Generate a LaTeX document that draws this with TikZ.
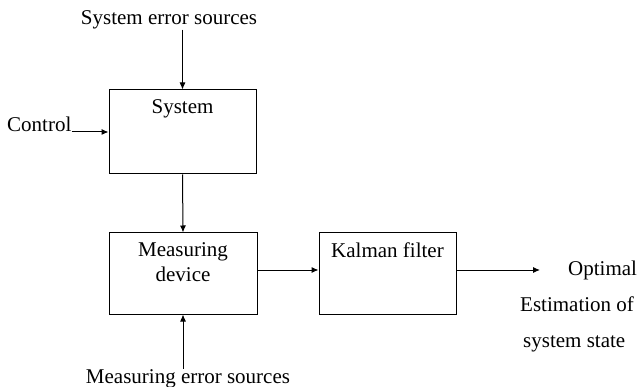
\documentclass[tikz,border=0pt]{standalone}
\usepackage{fontspec}
\setmainfont{Liberation Serif}
\usetikzlibrary{positioning,arrows.meta}

\begin{document}
\begin{tikzpicture}
      [x=1pt,y=-1pt,
       every node/.style={font=\fontsize{21}{25}\selectfont,inner sep=0pt},
       block/.style={draw,line width=1pt,minimum height=81pt},
       inside/.style={anchor=north,align=center,yshift=-10pt},
       flow/.style={-{Latex[length=7pt,width=6pt]},line width=1pt}]
      \useasboundingbox (0,0) rectangle (639,387);
      \node[block,minimum width=147pt,minimum height=84pt,label={[inside]north:System}] (system) at (182.5,132) {};
      \node[block,minimum width=148pt,label={[inside]north:Measuring\\device}] (meas) at (183,273.5) {};
      \node[block,minimum width=137pt,label={[inside]north:Kalman filter}] (kalman) at (387.5,273.5) {};

      \node[anchor=base] (syserr) at (169,25) {System error sources};
      \node[anchor=base west] (control) at (7,132) {Control};
      \node[anchor=base] (measerr) at (188,383) {Measuring error sources};
      \coordinate (out) at (540,270);
      \node[anchor=base west] (opt) at (568,275) {Optimal};
      \node[anchor=base west] (est) at (520,311) {Estimation of};
      \node[anchor=base west] (sst) at (523,347) {system state};

      \draw[flow] (system.north |- syserr.south) -- (system.north);
      \draw[flow] (control.east |- system.west) -- (system.west);
      \draw[flow] (system.south) -- (meas.north);
      \draw[flow] (meas.south |- measerr.north) -- (meas.south);
      \draw[flow] ([yshift=3.5pt]meas.east) -- ([yshift=3.5pt]kalman.west);
      \draw[flow] ([yshift=3.5pt]kalman.east) -- (out);
    \end{tikzpicture}
\end{document}
